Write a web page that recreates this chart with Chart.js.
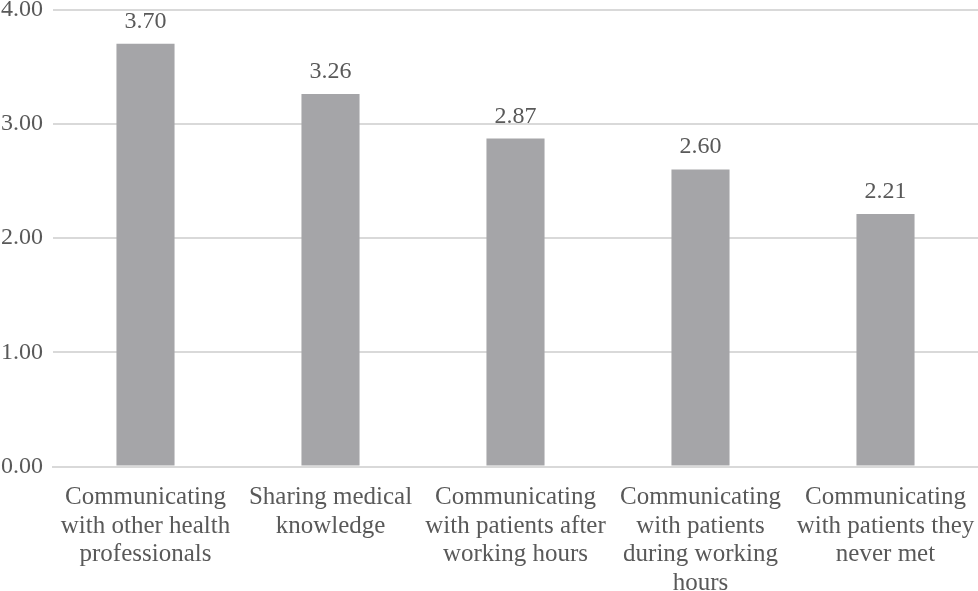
<!DOCTYPE html>
<html><head><meta charset="utf-8">
<script src="https://cdn.jsdelivr.net/npm/chart.js@4"></script>
<style>html,body{margin:0;padding:0;background:#fff}#wrap{width:978px;height:591px;position:relative}</style>
</head><body><div id="wrap"><canvas id="c"></canvas></div>
<script>
const categories = [
  ["Communicating","with other health","professionals"],
  ["Sharing medical","knowledge"],
  ["Communicating","with patients after","working hours"],
  ["Communicating","with patients","during working","hours"],
  ["Communicating","with patients they","never met"]
];
const values = [3.70, 3.26, 2.87, 2.60, 2.21];
const yTicks = [0, 1, 2, 3, 4];

const FONT = "'Liberation Serif','Times New Roman',serif";
const TEXT = '#595959';

const valueLabels = {
  id: 'valueLabels',
  afterDatasetsDraw(chart) {
    const ctx = chart.ctx;
    const meta = chart.getDatasetMeta(0);
    ctx.save();
    ctx.font = '24px ' + FONT;
    ctx.fillStyle = TEXT;
    ctx.textAlign = 'center';
    ctx.textBaseline = 'alphabetic';
    meta.data.forEach((bar, i) => {
      ctx.fillText(values[i].toFixed(2), bar.x, bar.y - 16);
    });
    ctx.restore();
  }
};

new Chart(document.getElementById('c'), {
  type: 'bar',
  data: {
    labels: categories,
    datasets: [{
      data: values,
      backgroundColor: '#A5A5A8',
      borderWidth: 0,
      barPercentage: 0.314,
      categoryPercentage: 1.0
    }]
  },
  options: {
    responsive: true,
    maintainAspectRatio: false,
    animation: false,
    layout: { padding: { top: 9.5, right: 0, left: 0, bottom: 0 } },
    plugins: { legend: { display: false }, tooltip: { enabled: false } },
    scales: {
      x: {
        grid: { display: false, drawTicks: false },
        border: { display: true, color: '#D9D9D9', width: 2 },
        ticks: {
          color: TEXT,
          font: { family: FONT, size: 25, lineHeight: 1.14 },
          padding: 17,
          maxRotation: 0,
          autoSkip: false
        },
        afterFit(scale) { scale.height = 591 - 466.5; scale.paddingLeft = 0; scale.paddingRight = 0; }
      },
      y: {
        min: 0, max: 4,
        afterBuildTicks(scale) { scale.ticks = yTicks.map(v => ({ value: v })); },
        grid: { color: '#D9D9D9', lineWidth: 2, drawTicks: false },
        border: { display: false },
        ticks: {
          color: TEXT,
          font: { family: FONT, size: 24 },
          padding: 10,
          callback: v => Number(v).toFixed(2)
        },
        afterFit(scale) { scale.width = 53; scale.paddingTop = 0; scale.paddingBottom = 0; }
      }
    }
  },
  plugins: [valueLabels]
});
</script>
</body></html>
